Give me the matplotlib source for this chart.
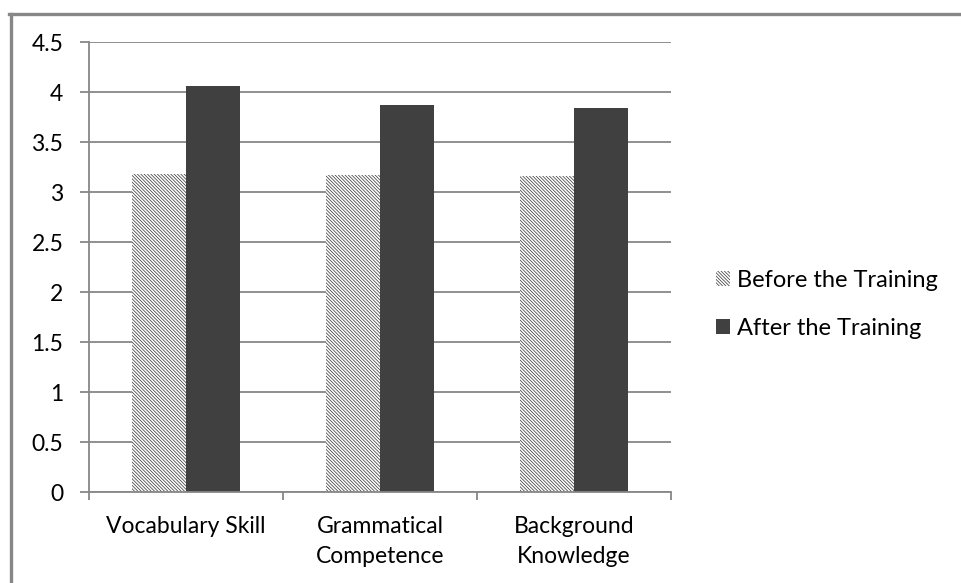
import numpy as np
import matplotlib.pyplot as plt
from matplotlib.lines import Line2D
from matplotlib.patches import Patch

plt.rcParams["font.family"] = ["Lato", "DejaVu Sans"]
plt.rcParams["hatch.linewidth"] = 0.55

categories = ["Vocabulary Skill", "Grammatical\nCompetence", "Background\nKnowledge"]
before = [3.18, 3.17, 3.16]
after = [4.06, 3.87, 3.84]
series_names = ["Before the Training", "After the Training"]
yticks = [0, 0.5, 1, 1.5, 2, 2.5, 3, 3.5, 4, 4.5]

grey = "#878787"
dark = "#404040"
hatch = "\\" * 10

fig = plt.figure(figsize=(9.61, 5.83), dpi=100)
ax = fig.add_axes([0.0926, 0.1556, 0.6054, 0.7718])

x = np.arange(len(categories))
w = 0.28
ax.bar(x - w / 2, before, w, color="white", edgecolor=dark, linewidth=0, hatch=hatch, zorder=2)
ax.bar(x + w / 2, after, w, color=dark, edgecolor="none", zorder=2)

ax.set_xlim(-0.5, len(categories) - 0.5)
ax.set_ylim(0, 4.5)
ax.set_yticks(yticks)
ax.set_yticklabels([f"{v:g}" for v in yticks], fontsize=16.5)
ax.yaxis.grid(True, color=grey, linewidth=1.3, zorder=0)
ax.set_axisbelow(True)

# category labels between boundary ticks
ax.set_xticks(np.arange(len(categories) + 1) - 0.5)
ax.set_xticklabels([])
ax.set_xticks(x, minor=True)
ax.set_xticklabels(categories, minor=True, fontsize=16.5, linespacing=1.55)
ax.tick_params(axis="x", which="minor", length=0, pad=17)
ax.tick_params(axis="x", which="major", length=6, width=1.3, color=grey)
ax.tick_params(axis="y", length=6.5, width=1.3, color=grey, pad=12)

for s in ["top", "right"]:
    ax.spines[s].set_visible(False)
for s in ["left", "bottom"]:
    ax.spines[s].set_color(grey)
    ax.spines[s].set_linewidth(1.3)

handles = [
    Patch(facecolor="white", edgecolor=dark, linewidth=0, hatch=hatch),
    Patch(facecolor=dark, edgecolor="none"),
]
fig.legend(handles, series_names, loc="center left", bbox_to_anchor=(0.723, 0.478),
           frameon=False, fontsize=17, handlelength=0.6, handleheight=0.6,
           handletextpad=0.3, labelspacing=1.15)

# outer frame of the chart area
fig.add_artist(Line2D([0.0110, 0.0110], [0.0, 0.9753], transform=fig.transFigure,
                      color=grey, linewidth=2.4))
fig.add_artist(Line2D([0.0098, 1.0], [0.9753, 0.9753], transform=fig.transFigure,
                      color=grey, linewidth=2.4))

plt.savefig("out.png", dpi=100)
